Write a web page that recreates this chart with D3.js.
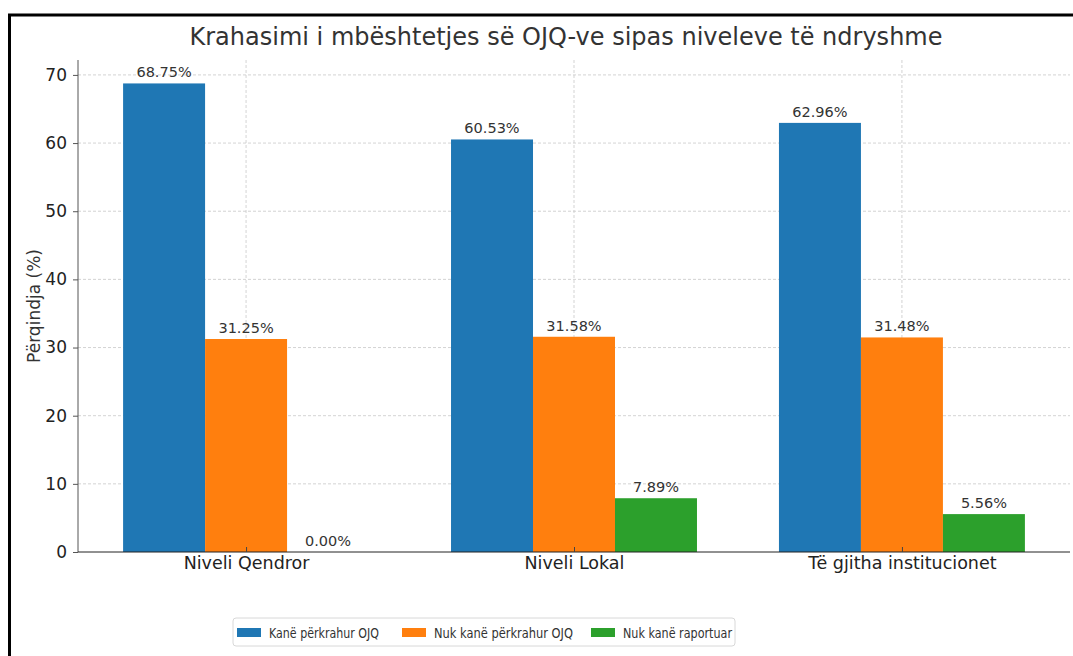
<!DOCTYPE html>
<html>
<head>
  <meta charset="utf-8">
  <script src="https://d3js.org/d3.v7.min.js"></script>
  <style>
    html, body { margin: 0; padding: 0; background: #fff; }
    svg { display: block; font-family: "DejaVu Sans", sans-serif; }
  </style>
</head>
<body>
  <div id="chart"></div>
  <script>
    var categories = ["Niveli Qendror", "Niveli Lokal", "Të gjitha institucionet"];
    var seriesNames = ["Kanë përkrahur OJQ", "Nuk kanë përkrahur OJQ", "Nuk kanë raportuar"];
    var supported = [68.75, 60.53, 62.96];
    var notSupported = [31.25, 31.58, 31.48];
    var notReported = [0.00, 7.89, 5.56];
    var yTicks = [0, 10, 20, 30, 40, 50, 60, 70];
    var colors = ["#1f77b4", "#ff7f0e", "#2ca02c"];

    var series = [supported, notSupported, notReported];

    var W = 1073, H = 656;
    var margin = { top: 60, right: 3, bottom: 104, left: 78 };
    var width = W - margin.left - margin.right;
    var height = H - margin.top - margin.bottom;

    var svg = d3.select("#chart").append("svg")
      .attr("width", W)
      .attr("height", H);

    // frame border like the screenshot
    svg.append("line").attr("x1", 8).attr("x2", W).attr("y1", 15).attr("y2", 15)
      .attr("stroke", "#000").attr("stroke-width", 3);
    svg.append("line").attr("x1", 9.5).attr("x2", 9.5).attr("y1", 14).attr("y2", H)
      .attr("stroke", "#000").attr("stroke-width", 3);

    var g = svg.append("g")
      .attr("transform", "translate(" + margin.left + "," + margin.top + ")");

    // x in category index units, same padding as matplotlib
    var x = d3.scaleLinear()
      .domain([-0.5125, categories.length - 1 + 0.5125])
      .range([0, width]);
    var barW = 0.25;

    var maxVal = d3.max(series, s => d3.max(s));
    var y = d3.scaleLinear()
      .domain([0, maxVal * 1.05])
      .range([height, 0]);

    // grid
    g.append("g").selectAll("line").data(yTicks.slice(1)).join("line")
      .attr("x1", 0).attr("x2", width)
      .attr("y1", d => y(d)).attr("y2", d => y(d))
      .attr("stroke", "#c8c8c8").attr("stroke-width", 0.8)
      .attr("stroke-dasharray", "3 2");
    g.append("g").selectAll("line").data(categories).join("line")
      .attr("x1", (d, i) => x(i)).attr("x2", (d, i) => x(i))
      .attr("y1", 0).attr("y2", height)
      .attr("stroke", "#c8c8c8").attr("stroke-width", 0.8)
      .attr("stroke-dasharray", "3 2");

    // bars
    series.forEach(function (s, k) {
      var off = (k - 1) * barW;
      g.append("g").selectAll("rect").data(s).join("rect")
        .attr("x", (d, i) => x(i + off - barW / 2))
        .attr("width", x(barW) - x(0))
        .attr("y", d => y(d))
        .attr("height", d => height - y(d))
        .attr("fill", colors[k]);

      g.append("g").selectAll("text").data(s).join("text")
        .attr("x", (d, i) => x(i + off))
        .attr("y", d => y(d) - 6)
        .attr("text-anchor", "middle")
        .attr("font-size", "14.5px")
        .attr("fill", "#333")
        .text(d => d.toFixed(2) + "%");
    });

    // y axis
    var yAxis = g.append("g")
      .call(d3.axisLeft(y).tickValues(yTicks).tickSize(5).tickPadding(6));
    yAxis.select(".domain").attr("stroke", "#555").attr("d", "M0," + height + "V0");
    yAxis.selectAll(".tick line").attr("stroke", "#555");
    yAxis.selectAll("text").attr("font-size", "17px").attr("fill", "#222")
      .attr("font-family", "DejaVu Sans, sans-serif");

    // x axis
    var xAxis = g.append("g")
      .attr("transform", "translate(0," + height + ")")
      .call(d3.axisBottom(x).tickValues(d3.range(categories.length))
        .tickFormat(i => categories[i]).tickSize(-5).tickPadding(5));
    xAxis.select(".domain").attr("stroke", "#222").attr("d", "M0,0H" + width);
    xAxis.selectAll(".tick line").attr("stroke", "#444");
    xAxis.selectAll("text").attr("font-size", "17.5px").attr("fill", "#222")
      .attr("font-family", "DejaVu Sans, sans-serif");

    // y label
    svg.append("text")
      .attr("transform", "translate(40," + (margin.top + height / 2) + ") rotate(-90)")
      .attr("text-anchor", "middle")
      .attr("font-size", "17px")
      .attr("fill", "#333")
      .text("Përqindja (%)");

    // title
    svg.append("text")
      .attr("x", margin.left + width / 2 - 8)
      .attr("y", 45)
      .attr("text-anchor", "middle")
      .attr("font-size", "24px")
      .attr("fill", "#333")
      .text("Krahasimi i mbështetjes së OJQ-ve sipas niveleve të ndryshme");

    // legend
    var legend = svg.append("g").attr("transform", "translate(233,618)");
    legend.append("rect")
      .attr("width", 502).attr("height", 28).attr("rx", 3)
      .attr("fill", "#fff").attr("stroke", "#d8d8d8");
    var legX = [4, 169, 358];
    var legW = [110, 139, 109];
    seriesNames.forEach(function (name, k) {
      var it = legend.append("g").attr("transform", "translate(" + legX[k] + ",0)");
      it.append("rect").attr("x", 0).attr("y", 10).attr("width", 24).attr("height", 9)
        .attr("fill", colors[k]);
      it.append("text").attr("x", 32).attr("y", 20)
        .attr("font-size", "14.5px").attr("fill", "#333")
        .attr("textLength", legW[k]).attr("lengthAdjust", "spacingAndGlyphs")
        .text(name);
    });
  </script>
</body>
</html>
